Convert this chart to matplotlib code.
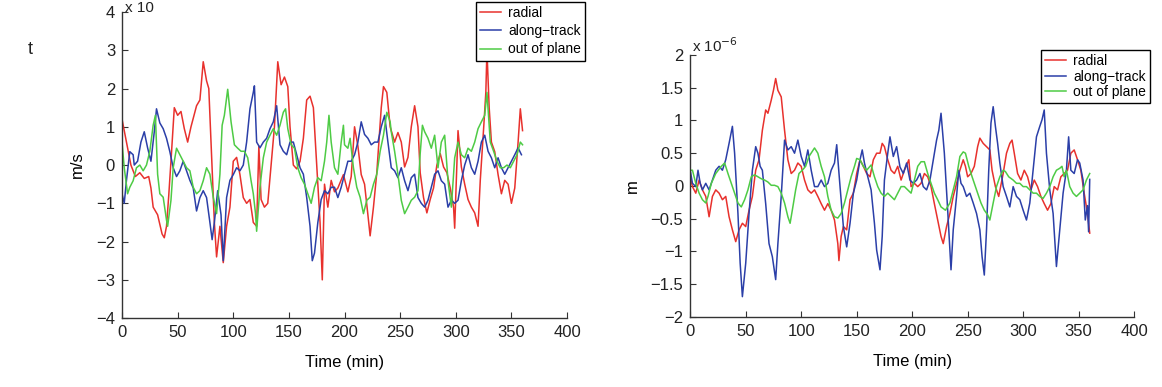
import matplotlib
matplotlib.use("Agg")
import matplotlib.pyplot as plt
from matplotlib.ticker import FuncFormatter

# ---- data: (time in min, value) ----
# left panel, m/s (scaled)
acc_radial = [(0,1.2),(4,0.6),(8,0.0),(12,-0.3),(16,-0.2),(20,-0.35),(24,-0.3),(26,-0.6),(28,-1.1),(32,-1.3),
              (36,-1.8),(38,-1.9),(40,-1.6),(42,-0.8),(44,0.1),(47,1.5),(50,1.3),(53,1.4),(56,0.95),(59,0.6),
              (62,1.0),(67,1.55),(70,1.7),(73,2.7),(76,2.2),(78,2.0),(80,0.6),(83,-1.5),(85,-2.4),(88,-1.6),
              (91,-2.55),(94,-1.6),(97,-1.1),(100,0.1),(103,0.2),(106,-0.25),(109,-0.85),(112,-1.0),(115,-0.9),
              (118,-1.5),(121,-1.6),(123,0.5),(125,-0.9),(128,-1.1),(131,-1.0),(134,0.0),(137,1.0),(140,2.7),
              (143,2.1),(146,2.3),(149,2.05),(151,1.0),(154,0.0),(157,-0.1),(160,0.1),(163,0.7),(166,1.7),
              (169,1.8),(172,1.5),(175,0.0),(178,-1.5),(180,-3.0),(182,-0.5),(185,-1.1),(188,-0.4),(191,-0.7),
              (194,-0.6),(199,-0.25),(203,-0.7),(206,-0.3),(209,1.0),(212,0.5),(215,-0.25),(218,-0.5),
              (221,-1.3),(223,-1.85),(226,-1.1),(229,-0.2),(233,1.5),(235,2.05),(238,1.9),(241,1.0),(245,0.6),
              (248,0.85),(251,0.6),(254,-0.05),(257,0.2),(260,1.0),(263,1.55),(266,1.0),(268,-0.2),(271,-0.85),
              (274,-1.25),(277,-0.9),(280,-0.6),(283,0.0),(286,0.3),(289,-0.05),(292,-0.2),(295,-0.6),
              (298,-1.1),(299,-1.65),(302,0.9),(305,-0.05),(308,-0.5),(311,-0.9),(314,-1.1),(317,-1.25),
              (320,-1.6),(322,-0.4),(325,0.95),(327,1.9),(328,3.0),(330,1.5),(332,0.6),(335,0.35),(338,-0.25),
              (341,-0.75),(344,-0.4),(347,-0.5),(350,-1.0),(353,-0.6),(356,0.6),(358,1.47),(360,0.9)]
acc_along = [(0,-0.75),(2,-1.0),(4,-0.4),(7,0.35),(10,0.27),(11,0.0),(14,0.1),(17,0.6),(20,0.87),(23,0.45),
             (26,0.1),(29,0.87),(31,1.47),(34,1.1),(37,0.95),(40,0.7),(43,0.35),(46,-0.07),(49,-0.3),(52,-0.15),
             (55,0.1),(58,-0.15),(61,-0.4),(64,-0.6),(67,-1.2),(70,-0.85),(73,-0.67),(76,-0.85),(79,-1.5),
             (81,-1.95),(83,-1.5),(86,-0.67),(89,-1.3),(91,-2.5),(94,-0.85),(97,-0.4),(100,-0.25),(103,-0.07),
             (106,-0.15),(109,0.0),(112,0.6),(115,1.47),(118,1.9),(119,2.07),(121,0.6),(124,0.45),(127,0.6),
             (130,0.7),(133,0.95),(136,1.13),(139,1.55),(142,0.53),(145,0.36),(148,0.27),(151,0.6),(154,0.6),
             (157,0.27),(160,-0.07),(163,-0.24),(166,-0.85),(169,-1.6),(171,-2.5),(173,-2.3),(176,-1.5),
             (179,-0.9),(182,-0.67),(185,-0.75),(188,-0.58),(191,-0.58),(194,-0.85),(197,-0.58),(200,-0.24),
             (203,0.1),(206,0.1),(209,0.27),(212,0.6),(215,1.13),(218,0.8),(221,0.7),(224,0.53),(227,0.6),
             (230,0.6),(233,1.0),(236,1.3),(239,0.6),(242,-0.07),(245,-0.15),(248,-0.33),(251,-0.07),
             (254,-0.41),(257,-0.67),(260,-0.33),(263,-0.24),(266,-0.85),(269,-1.0),(272,-1.1),(275,-0.92),
             (278,-0.58),(281,-0.24),(284,-0.15),(287,-0.41),(290,-0.5),(293,-1.1),(296,-0.92),(299,-1.0),
             (302,-0.92),(305,-0.41),(308,0.0),(311,0.27),(314,-0.07),(317,-0.24),(320,0.1),(323,0.6),
             (326,0.78),(329,0.36),(332,0.19),(335,-0.07),(338,0.19),(341,-0.07),(344,-0.24),(347,-0.07),
             (350,0.1),(353,0.27),(356,0.45),(359,0.27)]
acc_out = [(0,0.6),(2,-0.07),(5,-0.75),(7,-0.58),(10,-0.41),(13,-0.07),(16,0.0),(19,-0.15),(22,0.0),(25,0.36),
           (28,1.04),(30,1.3),(32,-0.24),(34,-0.75),(37,-0.84),(40,-1.44),(41,-1.6),(44,-0.92),(46,-0.07),
           (49,0.44),(52,0.27),(55,0.1),(58,-0.07),(61,-0.15),(64,-0.58),(67,-0.75),(70,-0.67),(73,-0.41),
           (76,-0.07),(79,-0.24),(82,-0.84),(85,-1.27),(88,-0.24),(90,1.04),(92,1.3),(95,1.98),(98,1.13),
           (101,0.53),(104,0.44),(107,0.36),(110,0.36),(113,0.19),(116,-0.41),(118,-0.75),(120,-1.27),
           (121,-1.73),(124,-0.58),(127,0.19),(130,0.6),(133,0.78),(136,0.95),(139,0.78),(142,1.04),
           (145,1.38),(147,1.47),(149,0.95),(152,0.53),(155,0.44),(158,-0.07),(161,-0.33),(164,-0.5),
           (167,-0.75),(170,-1.0),(173,-0.58),(176,-0.33),(179,-0.41),(182,0.1),(184,0.6),(186,1.3),(188,0.6),
           (191,-0.07),(194,-0.24),(197,0.6),(199,1.04),(200,0.53),(203,0.44),(205,0.7),(208,-0.07),
           (211,-0.58),(214,-0.84),(217,-1.27),(220,-0.92),(223,-0.84),(226,-0.5),(229,-0.24),(232,0.36),
           (235,0.78),(238,1.38),(241,1.13),(242,0.87),(245,0.36),(248,-0.24),(251,-0.92),(254,-1.27),
           (257,-1.1),(260,-0.92),(263,-0.84),(266,-0.67),(268,0.3),(270,1.04),(272,0.87),(275,0.7),(278,0.44),
           (281,0.78),(284,-0.07),(287,0.6),(290,0.78),(293,-0.41),(296,-1.1),(299,0.19),(302,0.6),(305,0.27),
           (308,0.19),(311,0.44),(314,0.36),(317,0.6),(320,0.95),(323,1.13),(326,1.3),(328,1.9),(331,0.6),
           (334,0.36),(337,0.1),(340,-0.07),(343,-0.07),(346,0.0),(349,-0.07),(352,0.1),(355,0.27),(358,0.6),
           (360,0.53)]

# right panel, m (x 1e-6)
pos_radial = [(0,0.14),(2,-0.01),(5,-0.11),(8,0.09),(11,-0.06),(14,-0.16),(17,-0.47),(20,-0.16),(23,-0.06),
              (26,-0.11),(29,-0.21),(32,-0.16),(35,-0.47),(38,-0.67),(41,-0.85),(44,-0.67),(47,-0.57),(50,-0.62),
              (53,-0.37),(56,-0.16),(59,0.24),(62,0.4),(65,0.85),(68,1.16),(70,1.11),(73,1.31),(75,1.46),
              (77,1.64),(79,1.46),(82,1.36),(85,0.85),(88,0.4),(91,0.19),(94,0.24),(97,0.35),(100,0.3),(103,0.09),
              (106,-0.06),(109,-0.11),(112,-0.06),(115,-0.16),(118,-0.27),(121,-0.37),(124,-0.27),(127,-0.37),
              (130,-0.52),(133,-0.88),(134,-1.14),(136,-0.77),(138,-0.62),(141,-0.67),(144,-0.21),(147,-0.11),
              (150,0.19),(153,0.4),(156,0.3),(159,0.19),(162,0.14),(165,0.4),(168,0.5),(171,0.5),(173,0.65),
              (175,0.6),(178,0.4),(181,0.24),(184,0.19),(187,0.3),(190,0.09),(193,0.24),(197,0.4),(199,-0.01),
              (202,0.04),(205,-0.01),(208,0.04),(211,0.19),(214,0.14),(217,-0.01),(220,-0.27),(223,-0.52),
              (226,-0.77),(228,-0.88),(231,-0.62),(234,-0.42),(237,-0.16),(240,0.04),(243,0.24),(246,0.4),
              (248,0.3),(250,0.14),(253,0.19),(256,0.3),(259,0.6),(261,0.73),(264,0.65),(267,0.6),(270,0.55),
              (272,0.24),(275,-0.01),(278,-0.16),(282,0.19),(285,0.5),(288,0.65),(290,0.7),(292,0.5),(295,0.19),
              (298,0.09),(301,0.24),(304,0.14),(307,-0.06),(310,0.09),(313,-0.01),(316,-0.16),(319,-0.27),
              (322,-0.37),(325,-0.27),(328,-0.01),(331,-0.06),(334,0.14),(337,0.19),(340,0.24),(343,0.5),
              (346,0.55),(349,0.4),(352,0.24),(355,-0.11),(358,-0.42),(360,-0.72)]
pos_along = [(0,0.24),(2,0.04),(5,-0.01),(7,0.24),(9,0.04),(11,-0.06),(14,0.04),(17,-0.06),(20,0.09),(23,0.24),
             (26,0.3),(29,0.24),(32,0.4),(35,0.65),(38,0.91),(40,0.5),(43,-0.42),(45,-1.18),(47,-1.69),(50,-1.18),
             (53,-0.42),(56,0.24),(59,0.6),(61,0.5),(63,0.3),(65,0.24),(68,-0.27),(71,-0.88),(74,-1.08),
             (77,-1.43),(79,-0.88),(82,-0.16),(85,0.7),(88,0.55),(91,0.6),(94,0.5),(97,0.7),(100,0.45),(103,0.3),
             (106,0.55),(109,0.24),(112,-0.01),(115,-0.01),(118,0.09),(121,-0.01),(124,0.04),(127,0.24),
             (130,0.35),(132,0.63),(135,-0.01),(138,-0.62),(141,-0.93),(144,-0.57),(147,-0.11),(150,0.09),
             (153,0.4),(155,0.55),(157,0.35),(160,0.14),(163,-0.06),(166,-0.57),(168,-0.98),(171,-1.28),
             (173,-0.77),(175,0.09),(178,0.5),(180,0.75),(183,0.45),(186,0.6),(189,0.29),(192,0.19),(195,0.35),
             (198,0.09),(201,0.04),(204,0.09),(207,0.19),(210,-0.01),(213,-0.06),(216,0.09),(219,0.4),(222,0.7),
             (224,0.85),(226,1.11),(229,0.5),(232,-0.37),(235,-1.28),(237,-0.67),(240,-0.16),(242,0.24),
             (244,0.04),(246,-0.01),(249,-0.16),(252,-0.11),(255,-0.26),(258,-0.42),(261,-0.67),(263,-1.08),
             (265,-1.36),(267,-0.67),(269,0.24),(271,0.96),(273,1.21),(275,0.91),(277,0.65),(279,0.35),
             (282,-0.01),(285,-0.16),(288,-0.32),(291,-0.01),(294,-0.16),(297,-0.21),(300,-0.37),(303,-0.52),
             (306,-0.26),(309,0.24),(312,0.75),(315,0.91),(317,1.01),(319,1.16),(321,0.5),(324,-0.06),
             (327,-0.42),(330,-1.23),(333,-0.67),(336,-0.11),(339,0.24),(341,0.75),(343,0.24),(346,0.19),
             (349,0.4),(351,0.35),(354,0.09),(356,-0.52),(358,-0.3),(359,-0.7),(360,0.1)]
pos_out = [(0,0.24),(2,0.24),(5,0.04),(8,-0.11),(11,-0.21),(14,-0.26),(16,-0.16),(19,0.04),(23,0.19),(28,0.3),
           (31,0.35),(34,0.19),(37,0.04),(40,-0.11),(43,-0.26),(46,-0.32),(49,-0.21),(52,-0.06),(55,0.14),
           (58,0.17),(61,0.14),(64,0.11),(67,0.09),(70,0.06),(73,0.01),(76,0.01),(79,-0.01),(82,-0.11),
           (85,-0.26),(88,-0.47),(90,-0.57),(92,-0.37),(95,-0.06),(98,0.19),(101,0.24),(104,0.3),(107,0.45),
           (112,0.58),(115,0.5),(118,0.3),(121,0.14),(124,-0.16),(127,-0.37),(130,-0.47),(133,-0.49),
           (136,-0.42),(139,-0.26),(142,-0.06),(145,0.14),(148,0.3),(150,0.42),(153,0.4),(156,0.3),(159,0.24),
           (163,0.32),(166,0.14),(169,-0.01),(172,-0.11),(175,-0.16),(178,-0.11),(181,-0.16),(184,-0.21),
           (187,-0.11),(190,-0.01),(193,-0.01),(196,-0.06),(199,-0.11),(202,0.09),(205,0.3),(208,0.37),
           (211,0.37),(214,0.19),(217,0.04),(220,-0.11),(223,-0.21),(226,-0.32),(230,-0.37),(234,-0.26),
           (237,-0.06),(240,0.14),(243,0.45),(246,0.52),(248,0.5),(251,0.3),(254,0.14),(256,0.04),(259,-0.11),
           (262,-0.26),(265,-0.37),(268,-0.44),(270,-0.52),(273,-0.26),(276,-0.01),(279,0.14),(282,0.24),
           (284,0.22),(287,0.14),(291,0.09),(294,0.04),(297,0.04),(300,-0.01),(303,-0.01),(306,-0.06),
           (309,-0.11),(312,-0.11),(315,-0.16),(318,-0.19),(321,-0.11),(324,-0.01),(327,0.14),(330,0.24),
           (333,0.27),(335,0.3),(337,0.14),(339,0.24),(342,-0.01),(345,-0.11),(348,-0.16),(351,-0.11),
           (354,-0.06),(357,0.09),(360,0.19)]

labels = ["radial", "along\u2212track", "out of plane"]
colors = ["#e8312d", "#2b3fa8", "#4ecb45"]

plt.rcParams['font.family'] = ['Liberation Sans', 'DejaVu Sans']
plt.rcParams['font.size'] = 12

fig = plt.figure(figsize=(11.62, 3.87), dpi=100)
ax1 = fig.add_axes([0.105, 0.178, 0.383, 0.791])
ax2 = fig.add_axes([0.594, 0.181, 0.382, 0.677])


def fmt(v, pos):
    return ("%g" % v).replace("-", "\u2212")


def style(ax, ylo, yhi, ystep):
    for s in ["top", "right"]:
        ax.spines[s].set_visible(False)
    for s in ["left", "bottom"]:
        ax.spines[s].set_color("#333333")
        ax.spines[s].set_linewidth(1.0)
    ax.set_xlim(0, 400)
    ax.set_ylim(ylo, yhi)
    ax.set_xticks(range(0, 401, 50))
    n = int(round((yhi - ylo) / ystep))
    ax.set_yticks([ylo + i * ystep for i in range(n + 1)])
    ax.yaxis.set_major_formatter(FuncFormatter(fmt))
    ax.tick_params(direction="in", length=4, width=0.8, colors="#333333",
                   labelcolor="#222222", labelsize=12, pad=5)
    ax.set_xlabel("Time (min)", fontsize=12, labelpad=11)


for ax, series in [(ax1, [acc_radial, acc_along, acc_out]),
                   (ax2, [pos_radial, pos_along, pos_out])]:
    for data, c, lab in zip(series, colors, labels):
        t, v = zip(*data)
        ax.plot(t, v, color=c, lw=1.1, label=lab)

style(ax1, -4, 4, 1)
style(ax2, -2, 2, 0.5)
ax1.set_ylabel("m/s", fontsize=12, labelpad=8)
ax2.set_ylabel("m", fontsize=12, labelpad=8)

# exponent markers (the left one is cut by the top edge in the source)
fig.text(125 / 1162, 1 - 12 / 387, "x 10", fontsize=11, va="baseline", color="#222222")
fig.text(692 / 1162, 1 - 52 / 387, "x 10$^{-6}$", fontsize=11, va="baseline", color="#222222")
fig.text(28 / 1162, 1 - 50 / 387, "t", fontsize=13, va="center", color="#222222")

legkw = dict(loc="upper right", bbox_transform=fig.transFigure, fontsize=10, fancybox=False,
             framealpha=1, edgecolor="black", handlelength=1.5, handletextpad=0.5,
             borderaxespad=0, borderpad=0.3)
lg1 = ax1.legend(bbox_to_anchor=(585 / 1162, 1 - 2 / 387), labelspacing=0.3, **legkw)
lg2 = ax2.legend(bbox_to_anchor=(1150 / 1162, 1 - 50 / 387), labelspacing=0.1, **legkw)
for lg in (lg1, lg2):
    lg.get_frame().set_linewidth(1.0)

fig.savefig("out.png", dpi=100)
